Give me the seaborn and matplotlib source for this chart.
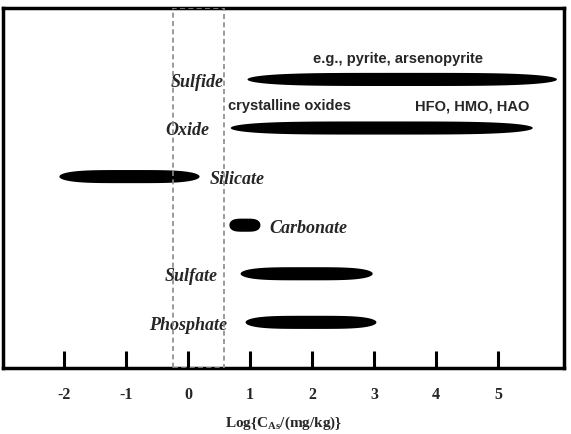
import numpy as np
import matplotlib
matplotlib.use("Agg")
import matplotlib.pyplot as plt
import seaborn as sns
from matplotlib.patches import Rectangle

# ---- data ----
categories = ["Phosphate", "Sulfate", "Carbonate", "Silicate", "Oxide", "Sulfide"]
range_start = [0.92, 0.84, 0.66, -2.08, 0.68, 0.95]
range_end = [3.03, 2.97, 1.16, 0.18, 5.55, 5.94]
tick_values = [-2, -1, 0, 1, 2, 3, 4, 5]
tick_labels = ["-2", "-1", "0", "1", "2", "3", "4", "5"]
window = (-0.24, 0.58)

sns.set_theme(style="white")
plt.rcParams["font.family"] = ["Liberation Serif", "DejaVu Serif"]
plt.rcParams["mathtext.fontset"] = "custom"
plt.rcParams["mathtext.rm"] = "Liberation Serif:bold"
plt.rcParams["mathtext.it"] = "Liberation Serif:bold"
plt.rcParams["mathtext.bf"] = "Liberation Serif:bold"

fig = plt.figure(figsize=(5.71, 4.34), dpi=100)
ax = fig.add_axes([3/571, 66/434, 561/571, 360/434])
ymin, ymax = -0.95, 6.46
ax.set_xlim(-2.98, 6.06)
ax.set_ylim(ymin, ymax)

half = 0.135
for i, (cat, s, e) in enumerate(zip(categories, range_start, range_end)):
    x = np.linspace(s, e, 400)
    c = (s + e) / 2
    w = (e - s) / 2
    t = np.clip(np.abs((x - c) / w), 0, 1)
    h = half * (1 - t ** 4) ** 0.5
    ax.fill_between(x, i - h, i + h, color="black", lw=0, zorder=2)

# category labels
label_pos = {
    "Sulfide": (0.58, "right"),
    "Oxide": (0.35, "right"),
    "Silicate": (0.35, "left"),
    "Carbonate": (1.32, "left"),
    "Sulfate": (0.48, "right"),
    "Phosphate": (0.63, "right"),
}
for i, cat in enumerate(categories):
    xp, ha = label_pos[cat]
    ax.text(xp, i - 0.07, cat, ha=ha, va="center", fontsize=13,
            fontstyle="italic", fontweight="bold", family="Liberation Serif", zorder=3)

ann = dict(fontsize=10.5, fontweight="bold", family="Liberation Sans", va="center")
ax.text(3.38, 5.4, "e.g., pyrite, arsenopyrite", ha="center", **ann)
ax.text(0.64, 4.44, "crystalline oxides", ha="left", **ann)
ax.text(5.5, 4.44, "HFO, HMO, HAO", ha="right", **ann)

# dashed window
ax.add_patch(Rectangle((window[0], ymin), window[1] - window[0], ymax - ymin,
                       fill=False, ec="#8a8a8a", ls=(0, (3, 2)), lw=1.2, zorder=4))

ax.set_xticks(tick_values)
ax.set_xticklabels(tick_labels, fontweight="bold", fontsize=11.5)
ax.set_yticks([])
ax.tick_params(axis="x", direction="in", length=12, width=2.2, color="black",
               pad=14, bottom=True)
for sp in ax.spines.values():
    sp.set_color("black")
    sp.set_linewidth(2.5)
ax.set_xlabel(r"Log{C$_{\rm As}$/(mg/kg)}", fontweight="bold", fontsize=11, labelpad=8)

fig.savefig("out.png", dpi=100)
